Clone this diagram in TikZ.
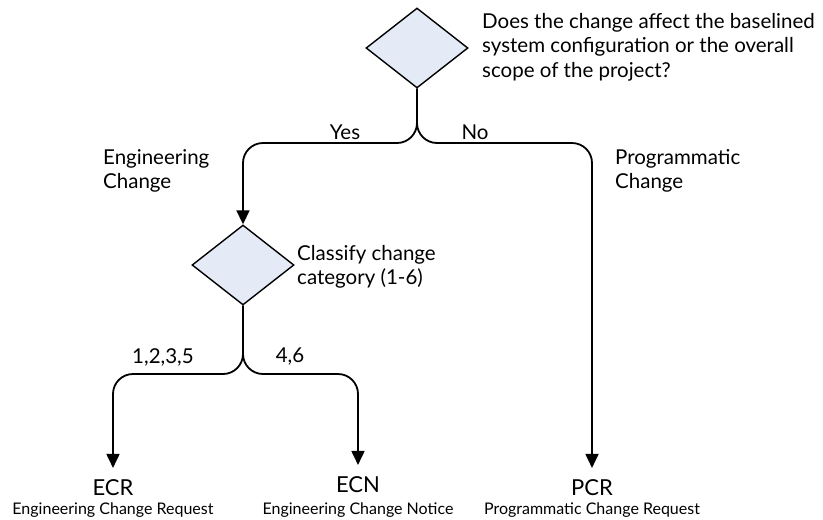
\documentclass[tikz,border=0pt]{standalone}
\usepackage{fontspec}
\setmainfont{Lato}
\usetikzlibrary{shapes.geometric,arrows.meta}
\definecolor{dfill}{HTML}{E4EAF6}
\tikzset{
  dec/.style={diamond,draw=black,fill=dfill,line width=1.4pt,minimum width=102pt,minimum height=80pt,inner sep=0pt},
  conn/.style={draw=black,line width=1.8pt,rounded corners=20pt,-{Triangle[length=14pt,width=13pt]}},
  lbl/.style={font=\fontsize{20.5}{24.5}\selectfont,align=left,inner sep=0pt},
  code/.style={font=\fontsize{22}{24}\selectfont,inner sep=0pt,outer ysep=12pt},
  sub/.style={font=\fontsize{16}{18}\selectfont,inner sep=0pt}
}
\begin{document}
\begin{tikzpicture}[x=1pt,y=-1pt]
\useasboundingbox (0,0) rectangle (823,520);
\node[dec] (d1) at (417,48) {};
\node[dec] (d2) at (243,265) {};
\node[lbl,anchor=west] (q1) at (482,47) {Does the change affect the baselined\\system configuration or the overall\\scope of the project?};
\node[lbl,anchor=west] (q2) at (297,267) {Classify change\\category (1-6)};
\node[lbl] (yes) at (345,132) {Yes};
\node[lbl] (no) at (475,132) {No};
\node[lbl,anchor=west] (eng) at (103,171) {Engineering\\Change};
\node[lbl,anchor=west] (prog) at (615,171) {Programmatic\\Change};
\node[lbl] (c1) at (163,357) {1,2,3,5};
\node[lbl] (c2) at (290,357) {4,6};
\node[code] (ecr) at (113,488) {ECR};
\node[code] (ecn) at (358,485) {ECN};
\node[code] (pcr) at (592,488) {PCR};
\node[sub] (secr) at (113,510) {Engineering Change Request};
\node[sub] (secn) at (358,510) {Engineering Change Notice};
\node[sub] (spcr) at (592,510) {Programmatic Change Request};
\coordinate (s1) at (417,143);
\coordinate (s2) at (243,374);
\draw[conn] (d1.south) -- (s1) -| (d2.north);
\draw[conn] (d1.south) -- (s1) -| (pcr.north);
\draw[conn] (d2.south) -- (s2) -| (ecr.north);
\draw[conn] (d2.south) -- (s2) -| (ecn.north);
\end{tikzpicture}
\end{document}
